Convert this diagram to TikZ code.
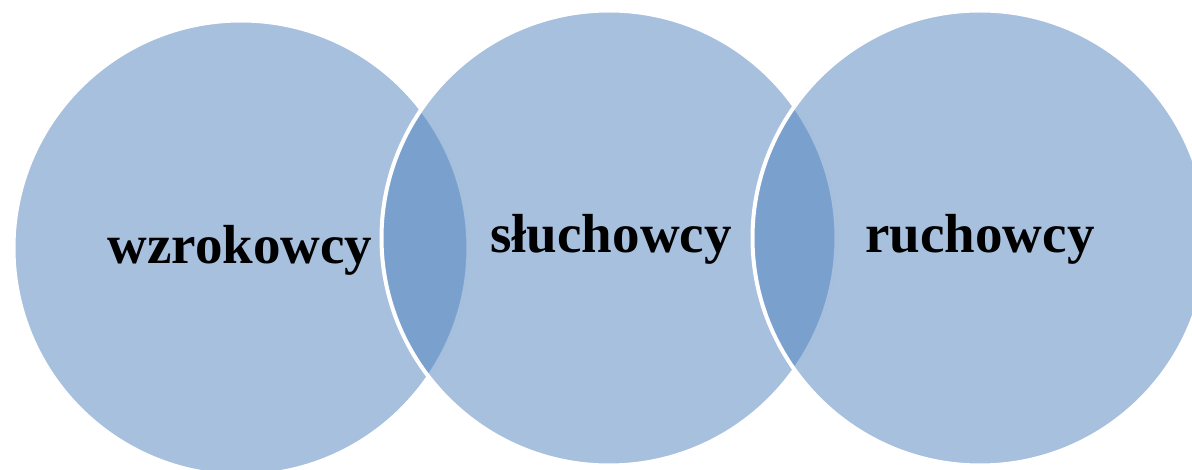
\documentclass[tikz,border=0pt]{standalone}
\usepackage{fontspec}
\setmainfont{Liberation Serif}
\definecolor{accent}{HTML}{4F81BD}
\begin{document}
\begin{tikzpicture}[x=1pt, y=-1pt]
            \useasboundingbox (0,0) rectangle (1192,470);
            \tikzset{blob/.style={circle, inner sep=0pt, minimum size=455pt, fill=accent, fill opacity=0.5, draw=white, line width=4pt},
                     word/.style={anchor=base, font=\fontsize{55}{60}\selectfont\bfseries}}

            \node[blob] (wz) at (241,248) {};
            \node[blob] (sl) at (609,238) {};
            \node[blob] (ru) at (980,238) {};

            \node[word] (wzt) at (240,264) {wzrokowcy};
            \node[word] (slt) at (611,253) {słuchowcy};
            \node[word] (rut) at (980,253) {ruchowcy};


        \end{tikzpicture}
\end{document}
